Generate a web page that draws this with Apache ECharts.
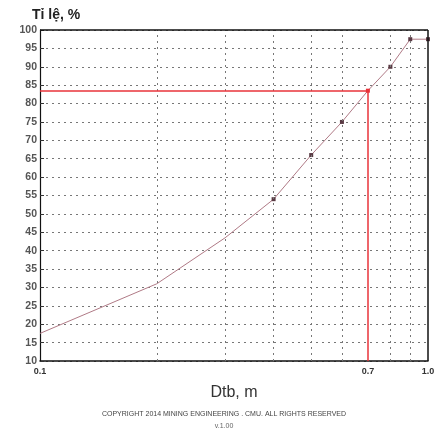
<!DOCTYPE html>
<html>
<head>
<meta charset="utf-8">
<script src="https://cdn.jsdelivr.net/npm/echarts@6/dist/echarts.min.js"></script>
<style>
  html, body { margin: 0; padding: 0; background: #fff; }
  #chart { width: 448px; height: 434px; }
</style>
</head>
<body>
<div id="chart"></div>
<script>
// duong kinh (m) va ti le lot sang (%)
var sizes = [0.1, 0.2, 0.3, 0.4, 0.5, 0.6, 0.7, 0.8, 0.9, 1.0];
var passing = [17.5, 31, 43.5, 54, 66, 75, 83.5, 90, 97.5, 97.5];
var minorGrid = [0.2, 0.3, 0.4, 0.5, 0.6, 0.8, 0.9];
var markSize = 0.7;
var markPassing = 83.5;
var yMin = 10, yMax = 100, yStep = 5;

var curve = [];
for (var i = 0; i < sizes.length; i++) {
    curve.push({
        value: [sizes[i], passing[i]],
        symbolSize: sizes[i] >= 0.4 ? 4 : 0,
        itemStyle: {color: sizes[i] == markSize ? '#e8333a' : '#5a3a44'}
    });
}

var gridLines = minorGrid.map(function(v) { return {xAxis: v}; });

var myChart = echarts.init(document.getElementById('chart'));
myChart.setOption({
    animation: false,
    backgroundColor: '#fff',
    textStyle: {fontFamily: 'Liberation Sans, Arial, sans-serif'},
    title: [
        {
            text: 'COPYRIGHT 2014 MINING ENGINEERING . CMU. ALL RIGHTS RESERVED',
            left: 'center', top: 406,
            textStyle: {fontSize: 7, fontWeight: 'normal', color: '#444'}
        },
        {
            text: 'v.1.00',
            left: 'center', top: 418,
            textStyle: {fontSize: 7, fontWeight: 'normal', color: '#666'}
        }
    ],
    grid: {left: 40, right: 20, top: 30, bottom: 73},
    xAxis: {
        type: 'log',
        logBase: 10,
        min: 0.1,
        max: 1,
        name: 'Dtb, m',
        nameLocation: 'middle',
        nameGap: 24,
        nameTextStyle: {fontSize: 16, color: '#333'},
        axisLine: {lineStyle: {color: '#111', width: 1.5}},
        axisTick: {show: false},
        splitLine: {show: false},
        axisLabel: {
            fontSize: 9, color: '#333', fontWeight: 'bold', margin: 6,
            formatter: function(v) { return v < 0.5 ? '0.1' : '1.0'; }
        }
    },
    yAxis: {
        type: 'value',
        min: yMin,
        max: yMax,
        interval: yStep,
        name: 'Tỉ lệ, %',
        nameLocation: 'end',
        nameGap: 8,
        nameTextStyle: {fontSize: 14, fontWeight: 'bold', color: '#222', align: 'left', padding: [0, 0, 0, -8]},
        axisLine: {show: true, lineStyle: {color: '#111', width: 1.2}},
        axisTick: {show: true, inside: true, length: 4, lineStyle: {color: '#333'}},
        axisLabel: {fontSize: 10.5, color: '#555', fontWeight: 'bold', margin: 3},
        splitLine: {show: true, lineStyle: {color: '#777', type: [2, 4], width: 1}}
    },
    series: [
        {
            type: 'line',
            data: curve,
            symbol: 'rect',
            lineStyle: {color: '#b07a86', width: 1},
            markLine: {
                silent: true,
                symbol: 'none',
                label: {show: false},
                lineStyle: {color: '#777', type: [2, 4], width: 1},
                data: gridLines
            },
            z: 3
        },
        {
            type: 'line',
            data: [],
            markLine: {
                silent: true,
                symbol: 'none',
                lineStyle: {color: '#e8333a', type: 'solid', width: 1.5},
                data: [
                    [{coord: [0.1, markPassing], label: {show: false}},
                     {coord: [markSize, markPassing]}],
                    [{coord: [markSize, yMin],
                        label: {show: true, position: 'start', formatter: '0.7',
                            fontSize: 9, fontWeight: 'bold', color: '#333', distance: 6}},
                     {coord: [markSize, markPassing]}]
                ]
            },
            z: 2
        },
        {
            // khung tren va phai
            type: 'line',
            data: [],
            markLine: {
                silent: true,
                symbol: 'none',
                label: {show: false},
                lineStyle: {color: '#111', type: 'solid', width: 1.5},
                data: [
                    [{coord: [0.1, yMax]}, {coord: [1, yMax]}],
                    [{coord: [1, yMin]}, {coord: [1, yMax]}]
                ]
            }
        }
    ]
});
</script>
</body>
</html>
